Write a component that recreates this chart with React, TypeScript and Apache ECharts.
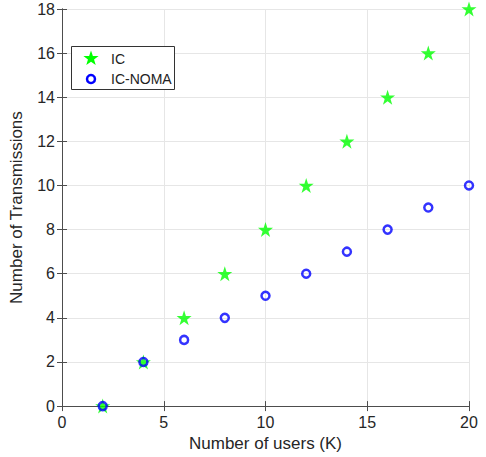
import React, { useEffect, useRef } from "react";
import * as echarts from "echarts";

const usersK = [2, 4, 6, 8, 10, 12, 14, 16, 18, 20];
const icValues = [0, 2, 4, 6, 8, 10, 12, 14, 16, 18];
const icNomaValues = [0, 2, 3, 4, 5, 6, 7, 8, 9, 10];
const legendNames = ["IC", "IC-NOMA"];

const FONT = "'Liberation Sans', Arial, sans-serif";
const STAR = "M50,0 L61.8,35.4 L99,35.4 L69,57.3 L80.3,92.7 L50,70.8 L19.7,92.7 L31,57.3 L1,35.4 L38.2,35.4 Z";

function starPoints(cx: number, cy: number, r: number) {
  const pts: number[][] = [];
  for (let i = 0; i < 10; i++) {
    const rad = i % 2 === 0 ? r : r * 0.4;
    const a = -Math.PI / 2 + (i * Math.PI) / 5;
    pts.push([cx + rad * Math.cos(a), cy + rad * Math.sin(a)]);
  }
  return pts;
}

export default function App() {
  const ref = useRef<HTMLDivElement>(null);
  useEffect(() => {
    if (!ref.current) return;
    const chart = echarts.init(ref.current, undefined, { renderer: "svg" });
    const axisCommon = {
      axisLine: { show: true, lineStyle: { color: "#4d4d4d", width: 1 } },
      axisTick: { show: true, inside: true, length: 5, lineStyle: { color: "#4d4d4d" } },
    };
    chart.setOption({
      animation: false,
      backgroundColor: "#ffffff",
      textStyle: { fontFamily: FONT },
      grid: { left: 59, right: 17, top: 9, bottom: 48, containLabel: false },
      graphic: [
        {
          type: "rect",
          shape: { x: 71.5, y: 46.5, width: 103, height: 43 },
          style: { fill: "#ffffff", stroke: "#333333", lineWidth: 1 },
          z: 100,
        },
        {
          type: "polygon",
          shape: { points: starPoints(91, 58.5, 8) },
          style: { fill: "#00ff00" },
          z: 101,
        },
        {
          type: "circle",
          shape: { cx: 91, cy: 79, r: 4 },
          style: { fill: "none", stroke: "#0000ff", lineWidth: 2.5 },
          z: 101,
        },
        {
          type: "text",
          x: 111,
          y: 59,
          style: { text: legendNames[0], font: `14px ${FONT}`, fill: "#222222", verticalAlign: "middle" },
          z: 101,
        },
        {
          type: "text",
          x: 111,
          y: 79,
          style: { text: legendNames[1], font: `14px ${FONT}`, fill: "#222222", verticalAlign: "middle" },
          z: 101,
        },
      ],
      xAxis: [
        {
          type: "value",
          min: 0,
          max: 20,
          interval: 5,
          name: "Number of users (K)",
          nameLocation: "middle",
          nameGap: 26,
          nameTextStyle: { fontFamily: FONT, fontSize: 17, color: "#262626" },
          axisLabel: { fontFamily: FONT, fontSize: 16, color: "#262626", margin: 8 },
          splitLine: { show: true, lineStyle: { color: "#e6e6e6", width: 1 } },
          ...axisCommon,
        },
        {
          type: "value",
          position: "top",
          min: 0,
          max: 20,
          interval: 5,
          axisLabel: { show: false },
          splitLine: { show: false },
          ...axisCommon,
        },
      ],
      yAxis: [
        {
          type: "value",
          min: 0,
          max: 18,
          interval: 2,
          name: "Number of Transmissions",
          nameLocation: "middle",
          nameGap: 37,
          nameTextStyle: { fontFamily: FONT, fontSize: 17, color: "#262626" },
          axisLabel: { fontFamily: FONT, fontSize: 16, color: "#262626", margin: 7 },
          splitLine: { show: true, lineStyle: { color: "#e6e6e6", width: 1 } },
          ...axisCommon,
        },
        {
          type: "value",
          position: "right",
          min: 0,
          max: 18,
          interval: 2,
          axisLabel: { show: false },
          splitLine: { show: false },
          ...axisCommon,
        },
      ],
      series: [
        {
          name: "IC",
          type: "scatter",
          symbol: "path://" + STAR,
          symbolSize: 15,
          itemStyle: { color: "#00ff00" },
          data: usersK.map((x, i) => [x, icValues[i]]),
          z: 2,
        },
        {
          name: "IC-NOMA",
          type: "scatter",
          symbol: "circle",
          symbolSize: 8,
          itemStyle: { color: "transparent", borderColor: "#0000ff", borderWidth: 2.5 },
          data: usersK.map((x, i) => [x, icNomaValues[i]]),
          z: 3,
        },
      ],
    });
    return () => chart.dispose();
  }, []);
  return <div ref={ref} style={{ width: 486, height: 457, position: "absolute", left: 0, top: 0 }} />;
}
